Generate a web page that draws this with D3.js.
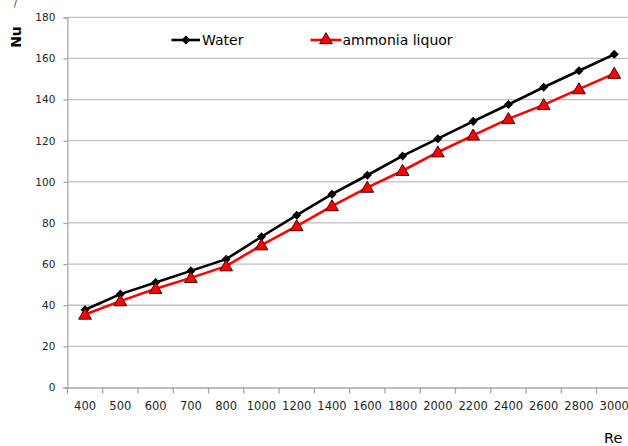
<!DOCTYPE html>
<html><head><meta charset="utf-8">
<script src="https://cdn.jsdelivr.net/npm/d3@7"></script>
<style>body{margin:0;background:#fff;}svg{display:block;font-family:"DejaVu Sans",sans-serif;}</style>
</head><body>
<script>
const categories = ["400","500","600","700","800","1000","1200","1400","1600","1800","2000","2200","2400","2600","2800","3000"];
const water = [37.8,45.4,51,56.7,62.4,73.3,83.8,94,103.2,112.6,121,129.4,137.6,146,154,162];
const ammonia = [35.5,42,48,53.3,59,69.2,78.5,88.2,97.2,105.4,114.4,122.6,130.6,137.4,145.1,152.6];
const yTicks = [0,20,40,60,80,100,120,140,160,180];
const seriesNames = ["Water","ammonia liquor"];

const W=628,H=446;
const svg=d3.select("body").append("svg").attr("width",W).attr("height",H);
const x=d3.scaleBand().domain(categories).range([67.4,631.9]);
const y=d3.scaleLinear().domain([0,180]).range([387.5,17.3]);
const gridColor="#c0c0c0", axisColor="#a6a6a6", textColor="#262626";

// gridlines
svg.append("g").selectAll("line").data(yTicks.filter(d=>d>0)).join("line")
  .attr("x1",67.4).attr("x2",W).attr("y1",d=>y(d)).attr("y2",d=>y(d))
  .attr("stroke",gridColor).attr("stroke-width",1.3);

// y axis
const ya=svg.append("g").attr("transform","translate(67.4,0)")
  .call(d3.axisLeft(y).tickValues(yTicks).tickSize(4).tickPadding(8));
ya.select(".domain").attr("stroke",axisColor).attr("stroke-width",1.3);
ya.selectAll(".tick line").attr("stroke",axisColor).attr("stroke-width",1.3);
ya.selectAll(".tick text").attr("fill",textColor).attr("font-size","10.5px").attr("font-family","DejaVu Sans");

// x axis
const xa=svg.append("g").attr("transform",`translate(0,${y(0)})`)
  .call(d3.axisBottom(x).tickSize(0).tickPadding(14));
xa.select(".domain").attr("stroke",axisColor).attr("stroke-width",1.3);
xa.selectAll(".tick text").attr("fill",textColor).attr("font-size","11.5px").attr("font-family","DejaVu Sans");
// boundary ticks
const bounds=categories.map(c=>x(c)).concat([x(categories[categories.length-1])+x.bandwidth()]);
svg.append("g").selectAll("line").data(bounds).join("line")
  .attr("x1",d=>d).attr("x2",d=>d).attr("y1",y(0)).attr("y2",y(0)+6)
  .attr("stroke",axisColor).attr("stroke-width",1.3);

const cx=c=>x(c)+x.bandwidth()/2;
const line=d3.line().x((d,i)=>cx(categories[i])).y(d=>y(d));

// water
svg.append("path").datum(water).attr("d",line).attr("fill","none").attr("stroke","#000").attr("stroke-width",2.6);
svg.append("g").selectAll("path").data(water).join("path")
  .attr("d",d3.symbol(d3.symbolDiamond2,52)())
  .attr("transform",(d,i)=>`translate(${cx(categories[i])},${y(d)})`)
  .attr("fill","#000");

// ammonia
svg.append("path").datum(ammonia).attr("d",line).attr("fill","none").attr("stroke","#ff0000").attr("stroke-width",2.6);
svg.append("g").selectAll("path").data(ammonia).join("path")
  .attr("d",d3.symbol(d3.symbolTriangle,70)())
  .attr("transform",(d,i)=>`translate(${cx(categories[i])},${y(d)+1})`)
  .attr("fill","#ff0000").attr("stroke","#400000").attr("stroke-width",1);

// legend
const lg=svg.append("g");
lg.append("line").attr("x1",171.5).attr("x2",200).attr("y1",40).attr("y2",40).attr("stroke","#000").attr("stroke-width",2.6);
lg.append("path").attr("d",d3.symbol(d3.symbolDiamond2,52)()).attr("transform","translate(186,40)").attr("fill","#000");
lg.append("text").attr("x",202).attr("y",45).text(seriesNames[0]).attr("font-size","14px").attr("fill","#000");
lg.append("line").attr("x1",310.5).attr("x2",341.5).attr("y1",40).attr("y2",40).attr("stroke","#ff0000").attr("stroke-width",2.6);
lg.append("path").attr("d",d3.symbol(d3.symbolTriangle,70)()).attr("transform","translate(326,40)").attr("fill","#ff0000").attr("stroke","#400000").attr("stroke-width",1);
lg.append("text").attr("x",342.5).attr("y",45).text(seriesNames[1]).attr("font-size","14px").attr("fill","#000");

// axis titles
svg.append("text").attr("transform","translate(21,37) rotate(-90)").attr("text-anchor","middle")
  .attr("font-size","14px").attr("font-weight","bold").attr("fill","#000").text("Nu");
svg.append("text").attr("x",604).attr("y",443).attr("font-size","14.5px").attr("fill","#000").text("Re");
svg.append("text").attr("x",14).attr("y",7).attr("font-size","8px").attr("fill","#000").text("/");
</script>
</body></html>
